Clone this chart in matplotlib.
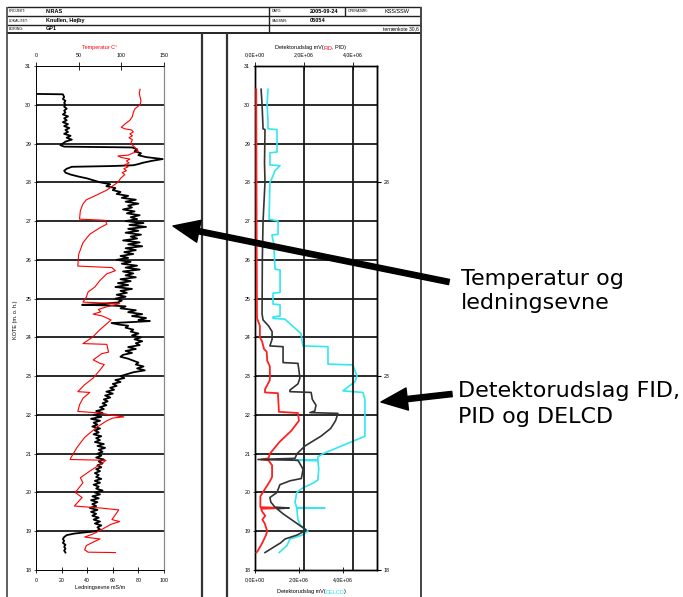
import numpy as np
import matplotlib
matplotlib.use('Agg')
import matplotlib.pyplot as plt
from matplotlib.ticker import FuncFormatter

# ---- left log: conductivity (black, bottom axis, mS/m) ----
cond_elev = [30.28, 30.27, 30.2, 30.15, 30.1, 30.05, 30.0, 29.95, 29.9, 29.85, 29.8, 29.75,
             29.7, 29.65, 29.6, 29.55, 29.5, 29.45, 29.4, 29.35, 29.3, 29.25, 29.2, 29.15,
             29.1, 29.05, 29.0, 28.96, 28.92, 28.9, 28.85, 28.8, 28.75, 28.7, 28.65, 28.6,
             28.55, 28.5, 28.47, 28.44, 28.42, 28.4, 28.35, 28.3, 28.25, 28.2, 28.15, 28.1,
             28.05, 28.0, 27.95, 27.9, 27.85, 27.8, 27.75, 27.7, 27.65, 27.6, 27.55, 27.5,
             27.45, 27.4, 27.35, 27.3, 27.25, 27.2, 27.15, 27.1, 27.05, 27.0, 26.95, 26.9,
             26.85, 26.8, 26.75, 26.7, 26.65, 26.6, 26.55, 26.5, 26.45, 26.4, 26.35, 26.3,
             26.25, 26.2, 26.15, 26.1, 26.05, 26.0, 25.95, 25.9, 25.85, 25.8, 25.75, 25.7,
             25.65, 25.6, 25.55, 25.5, 25.45, 25.4, 25.35, 25.3, 25.25, 25.2, 25.15, 25.1,
             25.05, 25.0, 24.95, 24.9, 24.86, 24.84, 24.82, 24.8, 24.75, 24.7, 24.65, 24.6,
             24.55, 24.5, 24.45, 24.42, 24.4, 24.37, 24.33, 24.3, 24.25, 24.2, 24.15, 24.1,
             24.05, 24.0, 23.95, 23.9, 23.85, 23.8, 23.75, 23.7, 23.65, 23.6, 23.55, 23.5,
             23.45, 23.4, 23.35, 23.3, 23.25, 23.2, 23.15, 23.1, 23.05, 23.0, 22.95, 22.9,
             22.85, 22.8, 22.75, 22.7, 22.65, 22.6, 22.55, 22.5, 22.45, 22.4, 22.35, 22.3,
             22.25, 22.2, 22.15, 22.1, 22.05, 22.0, 21.95, 21.9, 21.85, 21.8, 21.75, 21.7,
             21.65, 21.6, 21.55, 21.5, 21.45, 21.4, 21.35, 21.3, 21.25, 21.2, 21.15, 21.1,
             21.05, 21.0, 20.95, 20.9, 20.85, 20.8, 20.75, 20.7, 20.65, 20.6, 20.55, 20.5,
             20.45, 20.4, 20.35, 20.3, 20.25, 20.2, 20.15, 20.1, 20.05, 20.0, 19.95, 19.9,
             19.85, 19.8, 19.75, 19.7, 19.65, 19.6, 19.55, 19.5, 19.45, 19.4, 19.35, 19.3,
             19.25, 19.2, 19.15, 19.1, 19.05, 19.0, 18.97, 18.94, 18.9, 18.85, 18.8, 18.75,
             18.7, 18.65, 18.6, 18.55, 18.5, 18.45]
cond_val = [0, 21, 22, 21, 23, 22, 23, 22, 24, 22, 23, 21,
            25, 22, 24, 21, 25, 22, 26, 23, 25, 22, 27, 24,
            28, 23, 21, 19, 22, 75, 79, 77, 82, 80, 86, 99,
            90, 83, 80, 76, 60, 28, 24, 22, 23, 27, 33, 40,
            45, 50, 58, 55, 62, 60, 66, 63, 72, 67, 78, 70,
            80, 72, 75, 68, 77, 71, 81, 74, 79, 70, 84, 73,
            86, 72, 80, 70, 82, 74, 79, 68, 81, 72, 83, 70,
            78, 69, 76, 66, 72, 63, 74, 67, 79, 70, 81, 68,
            76, 70, 78, 66, 74, 64, 72, 62, 75, 66, 71, 63,
            70, 62, 67, 64, 50, 36, 60, 70, 66, 78, 72, 83,
            75, 86, 80, 89, 78, 59, 65, 72, 70, 76, 74, 80,
            75, 82, 77, 83, 78, 81, 72, 78, 70, 75, 68, 66,
            72, 76, 80, 78, 84, 79, 85, 76, 71, 66, 69, 62,
            66, 60, 63, 58, 61, 55, 60, 54, 58, 53, 56, 52,
            55, 50, 53, 47, 52, 45, 51, 43, 50, 45, 48, 44,
            50, 46, 49, 45, 51, 47, 50, 46, 53, 48, 54, 49,
            52, 48, 51, 47, 53, 49, 52, 48, 51, 47, 50, 46,
            49, 47, 51, 46, 50, 45, 49, 47, 52, 46, 50, 44,
            49, 43, 48, 44, 47, 42, 48, 43, 47, 44, 49, 45,
            50, 46, 51, 48, 50, 47, 38, 30, 24, 22, 21, 22,
            21, 23, 22, 23, 22, 23]

# ---- left log: temperature (red, top axis, C) ----
temp_elev = [30.4, 30.3, 30.1, 30.0, 29.9, 29.8, 29.7, 29.6, 29.5, 29.42, 29.38, 29.35,
             29.3, 29.25, 29.2, 29.15, 29.1, 29.0, 28.9, 28.8, 28.75, 28.7, 28.68, 28.64,
             28.6, 28.55, 28.5, 28.45, 28.4, 28.35, 28.3, 28.25, 28.2, 28.1, 28.0, 27.8,
             27.65, 27.55, 27.44, 27.27, 27.05, 27.02, 26.92, 26.83, 26.66, 26.44, 26.14, 25.84,
             25.8, 25.72, 25.64, 25.47, 25.3, 25.17, 25.04, 24.91, 24.87, 24.79, 24.72, 24.66,
             24.6, 24.55, 24.45, 24.2, 24.0, 23.84, 23.82, 23.62, 23.58, 23.42, 23.33, 23.3,
             23.16, 22.95, 22.78, 22.6, 22.58, 22.43, 22.26, 22.09, 22.05, 22.0, 21.95, 21.92,
             21.85, 21.68, 21.42, 21.16, 20.9, 20.85, 20.83, 20.72, 20.55, 20.38, 20.25, 20.0,
             19.87, 19.65, 19.6, 19.55, 19.3, 19.25, 19.18, 19.02, 18.93, 18.85, 18.8, 18.72,
             18.63, 18.52, 18.46, 18.45]
temp_val = [122, 121, 123, 122, 116, 114, 113, 110, 104, 100, 104, 112,
            114, 110, 113, 109, 113, 111, 116, 120, 113, 108, 96, 100,
            110, 106, 109, 104, 108, 103, 106, 101, 104, 99, 96, 83,
            69, 59, 55, 52, 51, 81, 83, 75, 63, 55, 50, 49,
            89, 93, 83, 75, 69, 61, 59, 55, 98, 83, 73, 76,
            67, 78, 88, 75, 66, 55, 83, 85, 77, 67, 75, 80,
            75, 67, 57, 49, 63, 55, 51, 49, 75, 87, 103, 90,
            83, 71, 57, 48, 41, 40, 82, 75, 63, 52, 55, 46,
            54, 45, 75, 97, 89, 98, 88, 75, 67, 57, 75, 67,
            59, 57, 61, 93]

# ---- right log: detector response (millions of mV) ----
fid_elev = [30.4, 28.0, 26.0, 24.5, 24.43, 24.3, 24.0, 23.9, 23.7, 23.63, 23.4, 23.25,
            22.9, 22.66, 22.58, 22.56, 22.08, 22.05, 21.85, 21.6, 21.3, 21.0, 20.88, 20.85,
            20.83, 20.7, 20.4, 20.3, 20.1, 19.9, 19.62, 19.6, 19.58, 19.5, 19.4, 19.3,
            19.2, 19.0, 18.9, 18.7, 18.5, 18.45]
fid_val = [0.05, 0.06, 0.07, 0.08, 0.12, 0.2, 0.2, 0.29, 0.37, 0.48, 0.5, 0.61,
           0.61, 0.41, 0.41, 0.94, 0.98, 1.76, 1.8, 1.5, 1.0, 0.61, 0.55, 0.25,
           0.55, 0.7, 0.7, 0.62, 0.42, 0.22, 0.22, 1.2, 0.25, 0.3, 0.42, 0.3,
           0.4, 0.5, 0.45, 0.3, 0.12, 0.06]

pid_elev = [30.4, 30.0, 29.38, 29.36, 28.5, 28.0, 27.0, 26.0, 24.6, 24.45, 24.3, 24.15,
            23.95, 23.78, 23.76, 23.35, 23.33, 23.15, 22.95, 22.8, 22.64, 22.6, 22.58, 22.4,
            22.25, 22.1, 22.06, 22.04, 21.85, 21.65, 21.45, 21.2, 21.0, 20.88, 20.85, 20.83,
            20.6, 20.36, 20.3, 20.2, 20.0, 19.87, 19.75, 19.62, 19.6, 19.58, 19.45, 19.2,
            19.03, 18.9, 18.8, 18.7, 18.58, 18.45]
pid_val = [0.25, 0.29, 0.33, 0.41, 0.39, 0.41, 0.33, 0.3, 0.29, 0.33, 0.55, 0.7,
           0.7, 0.61, 1.15, 1.15, 1.76, 1.8, 1.84, 1.76, 1.43, 1.43, 2.3, 2.35,
           2.5, 2.45, 2.25, 3.4, 3.3, 3.1, 2.7, 2.05, 1.72, 1.64, 0.12, 1.76,
           1.97, 1.9, 1.43, 1.02, 0.9, 0.61, 0.65, 0.82, 1.4, 0.9, 1.15, 1.72,
           2.1, 1.72, 1.23, 1.05, 0.74, 0.41]

delcd_elev = [30.4, 30.0, 29.6, 29.38, 29.36, 28.78, 28.76, 28.45, 28.43, 28.3, 28.1, 28.0,
              27.05, 27.0, 26.66, 26.64, 26.4, 25.76, 25.74, 25.16, 25.14, 24.86, 24.84, 24.55,
              24.53, 24.49, 24.47, 24.1, 23.78, 23.76, 23.31, 23.29, 23.0, 22.86, 22.62, 22.58,
              22.4, 21.45, 21.0, 20.92, 20.84, 20.83, 20.82, 20.6, 20.32, 20.24, 20.12, 20.0,
              19.75, 19.61, 19.6, 19.59, 19.3, 19.17, 19.0, 18.9, 18.8, 18.63, 18.45]
delcd_val = [0.59, 0.55, 0.59, 0.59, 1.0, 1.0, 0.68, 0.68, 1.14, 0.91, 0.77, 0.68,
             0.64, 1.05, 1.05, 0.77, 0.86, 0.91, 1.14, 1.14, 0.82, 0.82, 1.14, 1.14,
             0.82, 0.82, 1.36, 2.09, 2.18, 3.32, 3.32, 4.45, 4.64, 4.55, 4.0, 4.91,
             5.0, 5.0, 3.09, 2.86, 2.86, 1.82, 2.86, 2.9, 2.86, 2.64, 2.18, 1.9,
             1.82, 1.9, 3.18, 1.9, 1.95, 2.05, 2.41, 2.14, 1.59, 1.45, 1.1]

elev_ticks = list(range(18, 32))
grid_levels = list(range(19, 31))
temp_ticks = [0, 50, 100, 150]
cond_ticks = [0, 20, 40, 60, 80, 100]
det_ticks = [0, 2e6, 4e6]

W, H = 683, 597
plt.rcParams['font.family'] = ['Liberation Sans', 'DejaVu Sans']

fig = plt.figure(figsize=(W / 100, H / 100), dpi=100)


def px_box(x0, x1, y0, y1):
    return [x0 / W, 1 - y1 / H, (x1 - x0) / W, (y1 - y0) / H]


sci = FuncFormatter(lambda v, p: f"{v:.1E}".replace('.', ','))
small = 3.8

# left panel
axL = fig.add_axes(px_box(36, 164, 66, 570))
axLt = axL.twiny()
axL.set_ylim(18, 31)
axL.set_xlim(0, 100)
axLt.set_xlim(0, 150)
for lv in grid_levels:
    axL.axhline(lv, color='#2a2a2a', lw=1.4, zorder=1)
axL.plot(cond_val, cond_elev, color='black', lw=1.3, zorder=3)
axLt.plot(temp_val, temp_elev, color='red', lw=0.8)
axL.set_yticks(elev_ticks)
axL.set_xticks(cond_ticks)
axLt.set_xticks(temp_ticks)
axL.tick_params(axis='y', direction='inout', length=3, width=0.5, labelsize=small, pad=2)
axL.tick_params(axis='x', direction='inout', length=5, width=0.6, labelsize=small, pad=3)
axLt.tick_params(axis='x', direction='inout', length=6, width=0.6, labelsize=small, pad=3)
for a in (axL, axLt):
    a.spines['left'].set_linewidth(0.6)
    a.spines['right'].set_color('#888888')
    a.spines['right'].set_linewidth(0.8)
    a.spines['top'].set_linewidth(0.6)
    a.spines['bottom'].set_linewidth(0.6)

# right panel
axR = fig.add_axes(px_box(255, 377, 66, 570))
axRt = axR.twiny()
axR.set_ylim(18, 31)
axR.set_xlim(0, 5.55e6)
axRt.set_xlim(0, 5.0e6)
for lv in grid_levels:
    axR.axhline(lv, color='#1a1a1a', lw=1.3, zorder=1)
for gx in det_ticks[1:]:
    axRt.axvline(gx, color='#1a1a1a', lw=1.3, zorder=1)
axR.plot(np.array(delcd_val) * 1e6, delcd_elev, color='#33e6f0', lw=1.2, zorder=3)
axRt.plot(np.array(fid_val) * 1e6, fid_elev, color='#ff2020', lw=1.3, zorder=3)
axRt.plot(np.array(pid_val) * 1e6, pid_elev, color='#333333', lw=1.2, zorder=4)
axR.set_yticks(elev_ticks)
axR.set_xticks(det_ticks)
axRt.set_xticks(det_ticks)
axR.xaxis.set_major_formatter(sci)
axRt.xaxis.set_major_formatter(sci)
axR.tick_params(axis='y', direction='inout', length=3, width=0.5, labelsize=small, pad=2)
axR.tick_params(axis='x', direction='inout', length=5, width=0.6, labelsize=small, pad=3)
axRt.tick_params(axis='x', direction='inout', length=6, width=0.6, labelsize=small, pad=3)
for a in (axR, axRt):
    for s in a.spines.values():
        s.set_linewidth(1.0)
sec = axR.secondary_yaxis('right')
sec.set_yticks([18, 23, 28])
sec.tick_params(length=3, width=0.8, labelsize=small, pad=2)

# page frame, header, titles and call-outs
frame = fig.add_axes([0, 0, 1, 1], zorder=5)
frame.set_xlim(0, W)
frame.set_ylim(H, 0)
frame.axis('off')


def seg(x0, y0, x1, y1, lw=1.0, c='#222222'):
    frame.plot([x0, x1], [y0, y1], color=c, lw=lw, solid_capstyle='butt')


seg(7, 7, 421, 7)
seg(7, 16, 421, 16)
seg(7, 25, 421, 25)
seg(7, 33, 421, 33, lw=1.4)
seg(269, 7, 269, 33)
seg(345, 7, 345, 16)
seg(7, 7, 7, H, lw=1.2, c='#444444')
seg(421, 7, 421, H, lw=1.4, c='#444444')
seg(202, 33, 202, H, lw=1.6, c='#333333')
seg(227, 33, 227, H, lw=1.6, c='#333333')

head_rows = [
    (11.5, "PROJEKT:", "NIRAS", "DATO:", "2005-09-24"),
    (20.5, "LOKALITET:", "Knullen, Højby", "SAGSNR:", "05054"),
    (29.0, "BORING:", "GP1", "", ""),
]
for yy, lab, val, lab2, val2 in head_rows:
    frame.text(9, yy, lab, fontsize=2.6, va='center')
    frame.text(46, yy, val, fontsize=4, va='center', weight='bold')
    frame.text(272, yy, lab2, fontsize=2.6, va='center')
    frame.text(310, yy, val2, fontsize=4, va='center', weight='bold')
frame.text(348, 11.5, "OPERATØR:", fontsize=2.6, va='center')
frame.text(397, 11.5, "KSS/SSW", fontsize=4, va='center', ha='center')
frame.text(419, 29.0, "terrænkote 30,6", fontsize=3.6, va='center', ha='right')

frame.text(100, 48, "Temperatur C°", fontsize=4, color='red', ha='center', va='center')
frame.text(100, 588, "Ledningsevne mS/m", fontsize=4, ha='center', va='center')
frame.text(16, 320, "KOTE (m. o. h.)", fontsize=4, rotation=90, ha='center', va='center')

t1 = frame.text(275, 48, "Detektorudslag mV(", fontsize=4, va='center')
t2 = frame.annotate("FID", xy=(1, 0), xycoords=t1, fontsize=4, color='red', va='bottom')
frame.annotate(", PID)", xy=(1, 0), xycoords=t2, fontsize=4, va='bottom')
b1 = frame.text(277, 592, "Detektorudslag mV(", fontsize=4, va='center')
b2 = frame.annotate("DELCD", xy=(1, 0), xycoords=b1, fontsize=4, color='#33e6f0', va='bottom')
frame.annotate(")", xy=(1, 0), xycoords=b2, fontsize=4, va='bottom')

arrow = dict(arrowstyle='simple,head_length=0.95,head_width=0.8,tail_width=0.19',
             mutation_scale=20, color='black', shrinkA=0, shrinkB=0)
frame.annotate('', xy=(173, 226), xytext=(449, 282), arrowprops=arrow)
frame.annotate('', xy=(381, 402), xytext=(452, 394), arrowprops=arrow)

big = dict(fontsize=16, family='DejaVu Sans', va='baseline')
frame.text(461, 285, "Temperatur og", **big)
frame.text(461, 309, "ledningsevne", **big)
frame.text(458, 397, "Detektorudslag FID,", **big)
frame.text(458, 423, "PID og DELCD", **big)

fig.savefig('out.png', dpi=100)
